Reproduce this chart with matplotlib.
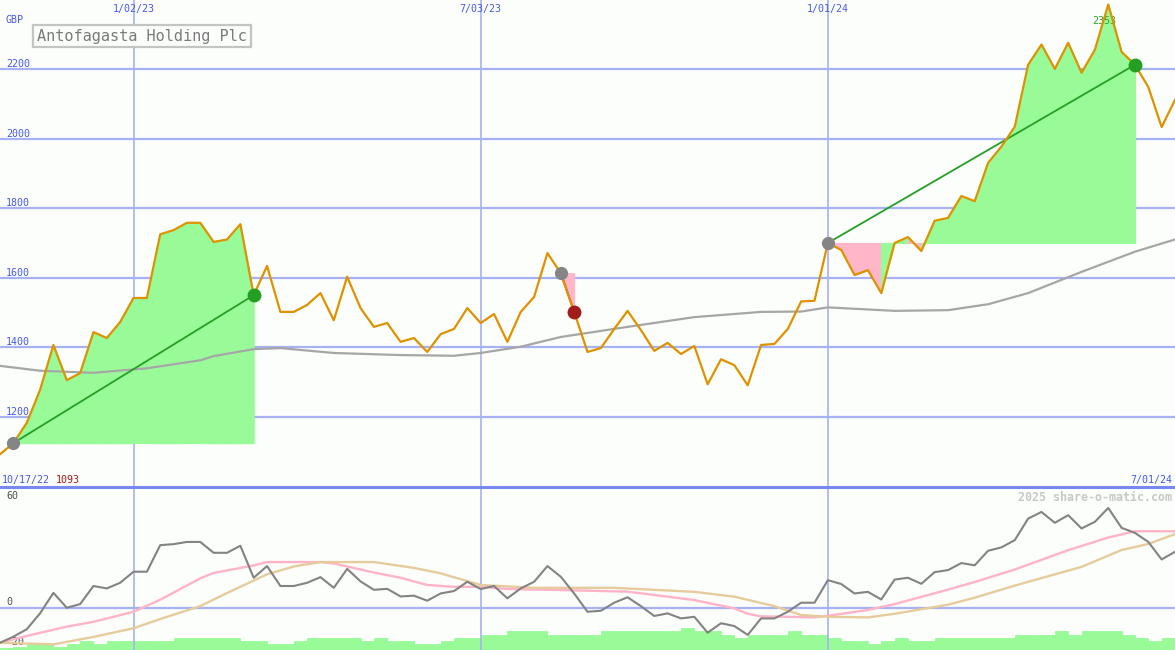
import numpy as np
import pandas as pd
import matplotlib
matplotlib.use("Agg")
import matplotlib.pyplot as plt
import matplotlib.dates as mdates

# weekly data, Mondays
dates = pd.date_range("2022-10-24", "2024-07-01", freq="7D")

# weekly close, GBP (pence)
price = [1093, 1125, 1183, 1278, 1407, 1306, 1326, 1444, 1427, 1473,
         1542, 1542, 1725, 1737, 1758, 1758, 1703, 1710, 1754, 1550,
         1634, 1502, 1502, 1522, 1556, 1478, 1603, 1513, 1459, 1470,
         1416, 1427, 1387, 1438, 1453, 1513, 1470, 1496, 1416, 1502,
         1545, 1671, 1613, 1502, 1387, 1398, 1453, 1505, 1450, 1390,
         1413, 1381, 1404, 1294, 1366, 1349, 1291, 1407, 1410, 1453,
         1532, 1534, 1700, 1680, 1608, 1622, 1556, 1700, 1717, 1677,
         1764, 1772, 1835, 1820, 1930, 1977, 2034, 2212, 2270, 2200,
         2275, 2189, 2255, 2385, 2249, 2212, 2148, 2033, 2111]
start_label = "1093"
peak_label = "2353"

# long moving average (read at these weeks)
ma_idx = [0, 3, 7, 11, 15, 16, 19, 21, 25, 30, 34, 36, 39, 42, 47, 52,
          57, 60, 62, 67, 71, 74, 77, 81, 85, 88]
ma_val = [1347, 1333, 1327, 1340, 1363, 1375, 1395, 1398, 1384, 1378,
          1376, 1384, 1402, 1430, 1459, 1487, 1502, 1503, 1515, 1505,
          1507, 1524, 1556, 1617, 1675, 1710]

# oscillator panel
osc = [-17.4, -14.4, -10.7, -2.8, 7.4, 0, 1.8, 10.8, 9.6, 12.4,
       17.9, 17.9, 31.1, 31.6, 32.7, 32.7, 27.3, 27.3, 30.8, 14.9,
       20.7, 10.8, 10.8, 12.4, 15.2, 9.9, 19.3, 13.1, 8.9, 9.4,
       5.6, 6.0, 3.5, 7.1, 8.3, 12.9, 9.3, 10.8, 4.7, 9.6,
       12.9, 20.7, 15.4, 7.1, -2.0, -1.5, 2.5, 5.2, 0.8, -4.1,
       -2.8, -5.3, -4.5, -12.4, -7.7, -9.1, -13.5, -5.3, -5.3, -2.0,
       2.5, 2.5, 13.7, 11.8, 7.1, 7.9, 4.1, 14.0, 14.9, 11.9,
       17.7, 18.7, 22.2, 21.1, 28.3, 30.0, 33.6, 44.3, 47.6, 42.2,
       46.0, 39.4, 42.7, 49.6, 39.7, 37.2, 32.7, 24.0, 27.8]
pink_idx = [0, 2, 5, 7, 10, 12, 15, 16, 19, 20, 24, 25, 28, 30, 32, 34,
            36, 38, 42, 47, 50, 52, 55, 56, 57, 59, 61, 62, 65, 67, 71,
            73, 76, 80, 83, 85, 88]
pink_val = [-17.4, -14, -9.4, -7, -2, 4, 14.6, 17.3, 21, 22.7, 22.7, 22,
            17.5, 14.9, 11.3, 10.4, 10.4, 9.3, 8.8, 8, 5.5, 3.8, -0.3,
            -3.0, -4.3, -4.5, -4.8, -4, -1.1, 1.8, 9, 12.8, 19, 28.6,
            34.9, 38, 38]
tan_idx = [0, 4, 7, 10, 12, 15, 17, 19, 20, 22, 24, 28, 31, 33, 36, 40,
           46, 52, 55, 58, 60, 62, 65, 67, 71, 73, 76, 81, 84, 86, 88]
tan_val = [-17.4, -18.2, -14.5, -10.2, -5.6, 0.8, 7.3, 13.5, 16.6, 20.5,
           22.7, 22.7, 19.8, 17.1, 11.3, 9.9, 9.9, 7.9, 5.5, 0.8, -3.6,
           -4.5, -4.8, -3, 1.5, 5, 11, 20.3, 28.7, 31.7, 36.6]
vol = [2, 3, 6, 6, 3, 6, 9, 6, 9, 9, 9, 9, 9, 12, 12, 12, 12, 12, 9, 9,
       6, 6, 9, 12, 12, 12, 12, 9, 12, 9, 9, 6, 6, 9, 12, 12, 15, 15, 19, 19,
       19, 15, 15, 15, 15, 19, 19, 19, 19, 19, 19, 22, 19, 19, 15, 12, 15, 15, 15, 19,
       15, 15, 12, 9, 9, 6, 9, 12, 9, 9, 12, 12, 12, 12, 12, 12, 15, 15, 15, 19,
       15, 19, 19, 19, 15, 12, 9, 12]

# signals: start week, end week
signals = [(1, 19), (42, 43), (62, 85)]

grid_dates = ["2023-01-02", "2023-07-03", "2024-01-01"]
grid_labels = ["1/02/23", "7/03/23", "1/01/24"]
price_ticks = [1200, 1400, 1600, 1800, 2000, 2200]
osc_ticks = [60, 0, -20]

bg = "#fbfefb"
grid_c = "#a6b2f4"
blue_t = "#4858e8"
green_f = "#98fb98"
pink_f = "#ffb6c8"
green_d = "#249f24"

fig = plt.figure(figsize=(11.75, 6.5), dpi=100, facecolor=bg)
top_h = 487 / 650
ax = fig.add_axes([0, 1 - top_h, 1, top_h])
ax2 = fig.add_axes([0, 0, 1, 1 - top_h])
ax3 = ax2.twinx()
ax3.set_zorder(0)
ax2.set_zorder(1)
ax2.patch.set_visible(False)
ax3.patch.set_facecolor(bg)
ax.set_facecolor(bg)

for a in (ax, ax2, ax3):
    a.set_xlim(dates[0], dates[-1])
    for s in a.spines.values():
        s.set_visible(False)
    a.set_xticks([])
    a.set_yticks([])

ax.set_ylim(999, 2398)
ax2.set_ylim(-21, 60)
ax3.set_ylim(0, 163)

fs = 7.2
mono = "DejaVu Sans Mono"

# grid
for t in price_ticks:
    ax.axhline(t, color=grid_c, lw=1.6, zorder=1)
    ax.annotate(str(t), xy=(0, t), xycoords=ax.get_yaxis_transform(),
                xytext=(6, 2), textcoords="offset pixels", va="baseline",
                fontsize=fs, family=mono, color=blue_t)
for d, lab in zip(grid_dates, grid_labels):
    dn = mdates.date2num(pd.Timestamp(d))
    ax.axvline(dn, color=grid_c, lw=1.2, zorder=1)
    ax2.axvline(dn, color=grid_c, lw=1.2, zorder=1)
    ax.annotate(lab, xy=(dn, 1), xycoords=ax.get_xaxis_transform(),
                xytext=(0, -4), textcoords="offset pixels", ha="center", va="top",
                fontsize=fs, family=mono, color=blue_t)
ax2.axhline(0, color=grid_c, lw=1.6, zorder=1)
ax2.axhline(60, color="#7888ee", lw=2.2, zorder=3, clip_on=False)

# signal fills, coloured per week by where the week closes against the start
for s, e in signals:
    base = price[s]
    for i in range(s, e):
        c = green_f if price[i + 1] >= base else pink_f
        ax.fill_between(dates[i:i + 2], price[i:i + 2], base, facecolor=c,
                        edgecolor=c, lw=0.8, zorder=2)
    end_c = green_d if price[e] >= base else "#a31c1c"
    ax.plot([dates[s], dates[e]], [price[s], price[e]], color=end_c, lw=1.3, zorder=4)
    ax.plot(dates[s], price[s], "o", color="#858585", ms=8.5, zorder=6)
    ax.plot(dates[e], price[e], "o", color=end_c, ms=9, zorder=6)

ax.plot(dates[ma_idx], ma_val, color="#a6a6a6", lw=1.6, zorder=3)
ax.plot(dates, price, color="#df9200", lw=1.6, zorder=5)

pk = int(np.argmax(price))
ax.annotate(peak_label, xy=(mdates.date2num(dates[pk]), price[pk]), xytext=(-4, -16),
            textcoords="offset pixels", ha="center", va="center",
            fontsize=fs, family=mono, color="#2f9f2f", zorder=4)

ax.annotate("GBP", xy=(0, 1), xycoords="axes fraction", xytext=(6, -20),
            textcoords="offset pixels", va="center", fontsize=fs,
            family=mono, color=blue_t)
ax.annotate("10/17/22", xy=(0, 0), xycoords="axes fraction", xytext=(2, 4),
            textcoords="offset pixels", va="baseline", fontsize=fs,
            family=mono, color=blue_t)
ax.annotate(start_label, xy=(0, 0), xycoords="axes fraction", xytext=(56, 4),
            textcoords="offset pixels", va="baseline", fontsize=fs,
            family=mono, color="#a81818")
ax.annotate(dates[-1].strftime("%-m/%d/%y"), xy=(1, 0), xycoords="axes fraction",
            xytext=(-3, 4), textcoords="offset pixels", ha="right", va="baseline",
            fontsize=fs, family=mono, color=blue_t)

fig.text(37 / 1175, 1 - 36 / 650, "Antofagasta Holding Plc", fontsize=11,
         family=mono, color="#7a7a7a", va="center", ha="left",
         bbox=dict(boxstyle="square,pad=0.25", facecolor=bg,
                   edgecolor="#c4c4c4", lw=1.6))

# lower panel
ax3.bar(dates[:-1], vol, width=7, align="edge", color=green_f, lw=0.6,
        edgecolor=green_f)
ax2.plot(dates[pink_idx], pink_val, color="#ffb3c6", lw=1.7, zorder=3)
ax2.plot(dates[tan_idx], tan_val, color="#e6cc9c", lw=1.7, zorder=3)
ax2.plot(dates, osc, color="#838383", lw=1.5, zorder=4)

for v in osc_ticks:
    if v == 60:
        off, va = -4, "top"
    else:
        off, va = 3, "baseline"
    ax2.annotate(str(v), xy=(0, v), xycoords=ax2.get_yaxis_transform(),
                 xytext=(6, off), textcoords="offset pixels", va=va,
                 fontsize=fs, family=mono, color="#505050", zorder=2)

ax2.annotate("2025 share-o-matic.com", xy=(1, 1), xycoords="axes fraction",
             xytext=(-3, -4), textcoords="offset pixels", ha="right", va="top",
             fontsize=8.4, family=mono, fontweight="bold", color="#c8c8c8")

fig.savefig("out.png", dpi=100, facecolor=bg)
